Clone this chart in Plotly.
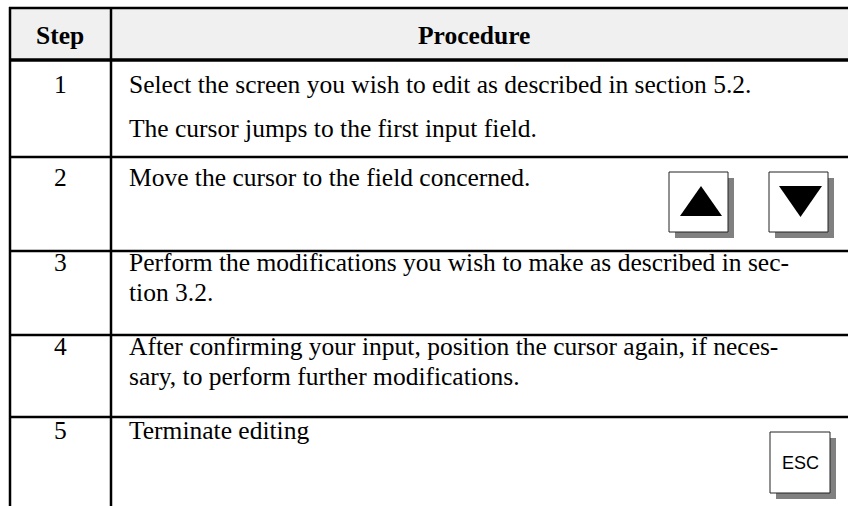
import plotly.graph_objects as go

W, H = 848, 506

# ---- table content ----
headers = ["Step", "Procedure"]
steps = ["1", "2", "3", "4", "5"]
procedure_lines = [
    ["Select the screen you wish to edit as described in section 5.2.",
     "The cursor jumps to the first input field."],
    ["Move the cursor to the field concerned."],
    ["Perform the modifications you wish to make as described in sec-",
     "tion 3.2."],
    ["After confirming your input, position the cursor again, if neces-",
     "sary, to perform further modifications."],
    ["Terminate editing"],
]
esc_label = "ESC"

# ---- layout geometry ----
left_x, step_x, right_x = 10, 111, 848
top_y, header_y = 8, 60
row_bottoms = [157, 251, 335, 417]
step_cx = 60
text_x = 127
header_cy = 35
line_ys = [[84, 128], [177], [262, 292], [346, 376], [430]]

serif = "Liberation Serif, Times New Roman, serif"
FS = 25.5

shapes = []
annotations = []

# header fill
shapes.append(dict(type="rect", x0=left_x, x1=right_x, y0=top_y, y1=header_y,
                   fillcolor="#f0f0f0", line=dict(width=0), layer="below"))
# horizontal lines
shapes.append(dict(type="line", x0=left_x - 1, x1=right_x, y0=top_y, y1=top_y,
                   line=dict(color="black", width=2.5)))
shapes.append(dict(type="line", x0=left_x - 1, x1=right_x, y0=header_y, y1=header_y,
                   line=dict(color="black", width=3.5)))
for yb in row_bottoms:
    shapes.append(dict(type="line", x0=left_x - 1, x1=right_x, y0=yb, y1=yb,
                       line=dict(color="black", width=2.5)))
# vertical lines
for xv in (left_x, step_x):
    shapes.append(dict(type="line", x0=xv, x1=xv, y0=top_y - 1, y1=H + 5,
                       line=dict(color="black", width=2.5)))

# header text
annotations.append(dict(x=step_cx, y=header_cy, text="<b>%s</b>" % headers[0],
                        showarrow=False, xanchor="center", yanchor="middle",
                        font=dict(family=serif, size=FS, color="black")))
annotations.append(dict(x=474, y=header_cy, text="<b>%s</b>" % headers[1],
                        showarrow=False, xanchor="center", yanchor="middle",
                        font=dict(family=serif, size=FS, color="black")))

# rows
for i, (s, lines) in enumerate(zip(steps, procedure_lines)):
    annotations.append(dict(x=step_cx, y=line_ys[i][0], text=s, showarrow=False,
                            xanchor="center", yanchor="middle",
                            font=dict(family=serif, size=FS, color="black")))
    for ln, yy in zip(lines, line_ys[i]):
        annotations.append(dict(x=text_x, y=yy, text=ln, showarrow=False,
                                xanchor="left", yanchor="middle",
                                font=dict(family=serif, size=FS, color="black")))


def key(x0, y0, size_w, size_h):
    # shadow
    shapes.append(dict(type="rect", x0=x0 + 6, x1=x0 + size_w + 6, y0=y0 + 6,
                       y1=y0 + size_h + 6, fillcolor="#808080", line=dict(width=0)))
    shapes.append(dict(type="rect", x0=x0, x1=x0 + size_w, y0=y0, y1=y0 + size_h,
                       fillcolor="white", line=dict(color="#222222", width=1)))


# arrow keys (row 2)
key(669, 172, 59, 60)
key(769, 172, 59, 60)
shapes.append(dict(type="path", path="M 680 216 L 722 216 L 701 186 Z",
                   fillcolor="black", line=dict(width=0)))
shapes.append(dict(type="path", path="M 779 186 L 822 186 L 800.5 217 Z",
                   fillcolor="black", line=dict(width=0)))
# ESC key (row 5)
key(770, 432, 60, 61)
annotations.append(dict(x=800, y=463, text=esc_label, showarrow=False,
                        xanchor="center", yanchor="middle",
                        font=dict(family="Liberation Sans, Arial, sans-serif",
                                  size=18, color="black")))

fig = go.Figure()
fig.update_layout(
    width=W, height=H,
    margin=dict(l=0, r=0, t=0, b=0),
    paper_bgcolor="white", plot_bgcolor="white",
    xaxis=dict(range=[0, W], visible=False, fixedrange=True),
    yaxis=dict(range=[H, 0], visible=False, fixedrange=True),
    shapes=shapes, annotations=annotations, showlegend=False,
)
fig.write_html("out.html", config={"displayModeBar": False},
               post_script="document.body.style.margin='0';"
                           "document.body.style.overflow='hidden';")
